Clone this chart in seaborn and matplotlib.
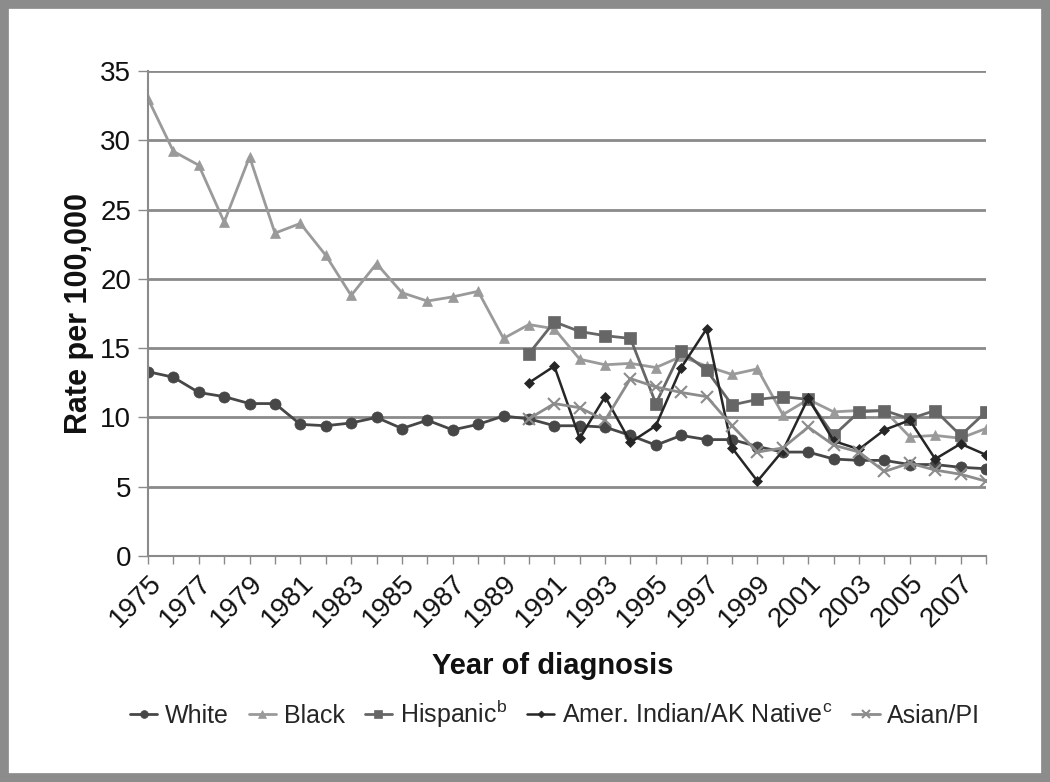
import numpy as np
import pandas as pd
import matplotlib
matplotlib.use("Agg")
import matplotlib.pyplot as plt
import seaborn as sns
from matplotlib.patches import Rectangle

years = list(range(1975, 2009))
years_late = list(range(1990, 2009))

white = [13.3, 12.9, 11.8, 11.5, 11.0, 11.0, 9.5, 9.4, 9.6, 10.0, 9.2, 9.8, 9.1, 9.5,
         10.1, 9.9, 9.4, 9.4, 9.3, 8.7, 8.0, 8.7, 8.4, 8.4, 7.9, 7.5, 7.5, 7.0, 6.9,
         6.9, 6.6, 6.6, 6.4, 6.3]
black = [33.0, 29.2, 28.2, 24.1, 28.8, 23.3, 24.0, 21.7, 18.8, 21.1, 19.0, 18.4, 18.7,
         19.1, 15.7, 16.7, 16.4, 14.2, 13.8, 13.9, 13.6, 14.4, 13.7, 13.1, 13.5, 10.2,
         11.3, 10.4, 10.5, 10.5, 8.6, 8.7, 8.5, 9.2]
hispanic = [14.6, 16.9, 16.2, 15.9, 15.7, 11.0, 14.8, 13.4, 10.9, 11.3, 11.5, 11.3,
            8.7, 10.4, 10.5, 9.9, 10.5, 8.7, 10.4]
amer_indian = [12.5, 13.7, 8.5, 11.5, 8.2, 9.4, 13.6, 16.4, 7.8, 5.4, 7.6, 11.4, 8.3,
               7.7, 9.1, 9.8, 7.0, 8.1, 7.3]
asian_pi = [9.9, 11.0, 10.7, 9.8, 12.8, 12.2, 11.8, 11.5, 9.4, 7.5, 7.8, 9.3, 8.0,
            7.5, 6.1, 6.7, 6.2, 5.9, 5.4]

labels = ["White", "Black", "Hispanic$^{\\mathrm{b}}$",
          "Amer. Indian/AK Native$^{\\mathrm{c}}$", "Asian/PI"]
yticks = [0, 5, 10, 15, 20, 25, 30, 35]
xtick_labels = [str(y) for y in range(1975, 2008, 2)]

sns.set_theme(style="white")
plt.rcParams['font.family'] = ['Liberation Sans', 'DejaVu Sans']
plt.rcParams['mathtext.fontset'] = 'custom'
plt.rcParams['mathtext.rm'] = 'Liberation Sans'
plt.rcParams['mathtext.it'] = 'Liberation Sans'

fig = plt.figure(figsize=(10.5, 7.82), dpi=100)
ax = fig.add_axes([148/1050, 1-556/782, (986-148)/1050, (556-71)/782])

series = [
    (years, white, labels[0], "#474747", "o", 8, 2.0),
    (years, black, labels[1], "#9a9a9a", "^", 7.5, 2.0),
    (years_late, hispanic, labels[2], "#666666", "s", 8, 2.0),
    (years_late, amer_indian, labels[3], "#262626", "D", 5, 1.8),
    (years_late, asian_pi, labels[4], "#8c8c8c", "x", 8, 2.0),
]
for xs, ys, lab, col, mk, ms, lw in series:
    df = pd.DataFrame({"year": xs, "rate": ys})
    sns.lineplot(data=df, x="year", y="rate", ax=ax, color=col, marker=mk,
                 markersize=ms, linewidth=lw, label=lab, markeredgecolor=col,
                 markeredgewidth=1.5 if mk == "x" else 0.5)

ax.set_xlim(1975, 2008)
ax.set_ylim(0, 35)
ax.set_yticks(yticks)
ax.yaxis.grid(True, color="#8a8a8a", linewidth=2)
ax.xaxis.grid(False)
ax.set_axisbelow(True)

ax.set_xticks(years, minor=True)
ax.set_xticks(list(range(1975, 2008, 2)))
ax.set_xticklabels(xtick_labels, rotation=45, ha="right", va="top",
                   rotation_mode="anchor", fontsize=20, color="#111111")
ax.tick_params(axis="x", which="both", direction="out", length=6, width=1,
               color="#8a8a8a", bottom=True, pad=4)
ax.tick_params(axis="y", direction="out", length=7, width=1, color="#8a8a8a",
               left=True, labelsize=20, labelcolor="#111111", pad=5)

for s in ["top", "right"]:
    ax.spines[s].set_visible(False)
for s in ["left", "bottom"]:
    ax.spines[s].set_color("#8a8a8a")
    ax.spines[s].set_linewidth(1.5)

ax.set_xlabel("Year of diagnosis", fontsize=21, fontweight="bold", color="#111111")
ax.xaxis.set_label_coords((553-148)/(986-148), (556-666)/(556-71))
ax.xaxis.label.set_va("center")
ax.set_ylabel("Rate per 100,000", fontsize=22, fontweight="bold", color="#111111")
ax.yaxis.set_label_coords((79-148)/(986-148), 0.5)
ax.yaxis.label.set_va("center")

handles, labs = ax.get_legend_handles_labels()
ax.legend_.remove()
fig.legend(handles, labs, loc="center", bbox_to_anchor=(555/1050, 1-714/782),
           ncol=5, frameon=False, fontsize=18, handlelength=1.1,
           handletextpad=0.3, columnspacing=0.8, markerscale=0.7)

fig.add_artist(Rectangle((0.004, 0.005), 0.992, 0.99, transform=fig.transFigure,
                         fill=False, edgecolor="#8c8c8c", linewidth=7))

fig.savefig("out.png", dpi=100)
